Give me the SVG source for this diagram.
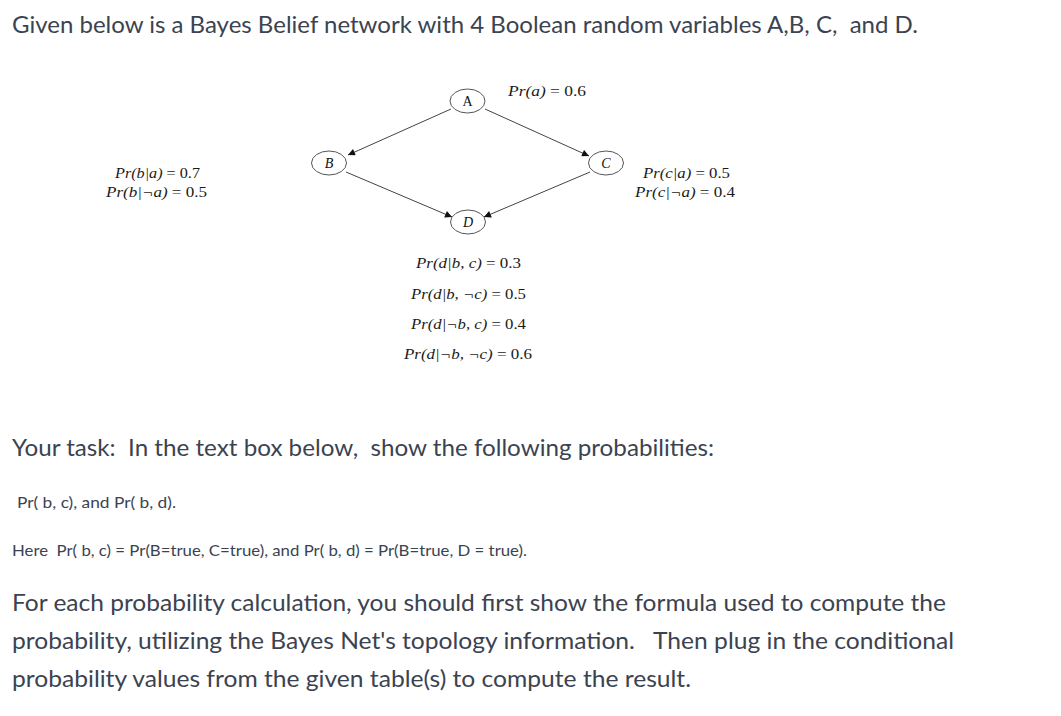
<svg xmlns="http://www.w3.org/2000/svg" width="1061" height="716" viewBox="0 0 1061 716">
<style>
text{white-space:pre}
.body{font-family:Lato,"Open Sans","Noto Sans",sans-serif;fill:#3b4351}
.big{font-size:23px}
.small{font-size:16px}
.m{font-family:"Liberation Serif","Times New Roman",serif;font-style:italic;font-size:14px;fill:#1a1a1a}
.n{font-style:normal;font-family:"Liberation Serif","Times New Roman",serif}
.node ellipse{fill:#fff;stroke:#555;stroke-width:1}
.lbl{font-family:"Liberation Serif","Times New Roman",serif;font-size:14px;fill:#111;text-anchor:middle}
.edge{stroke:#444;stroke-width:1;fill:none;marker-end:url(#ah)}
</style>
<defs>
<marker id="ah" viewBox="0 0 10 10" refX="10" refY="5" markerWidth="10" markerHeight="7" markerUnits="userSpaceOnUse" orient="auto">
<path d="M0,0 L10,5 L0,10 z" fill="#111"/>
</marker>
</defs>
<rect width="1061" height="716" fill="#fff"/>
<text class="body big" x="12" y="33" textLength="906" lengthAdjust="spacingAndGlyphs">Given below is a Bayes Belief network with 4 Boolean random variables A,B, C,  and D.</text>

<g id="connectors">
<line class="edge" x1="451" y1="109" x2="348" y2="155"/>
<line class="edge" x1="485" y1="109" x2="589" y2="156"/>
<line class="edge" x1="346" y1="172" x2="452" y2="217"/>
<line class="edge" x1="590" y1="172" x2="484" y2="217"/>
</g>
<g id="node-A" class="node"><ellipse cx="467.5" cy="101" rx="17.5" ry="12"/><text class="lbl" x="467.5" y="106">A</text></g>
<g id="node-B" class="node"><ellipse cx="329" cy="163" rx="17.5" ry="12"/><text class="lbl" x="329" y="168" font-style="italic">B</text></g>
<g id="node-C" class="node"><ellipse cx="606" cy="163" rx="17.5" ry="12"/><text class="lbl" x="606" y="168" font-style="italic">C</text></g>
<g id="node-D" class="node"><ellipse cx="468" cy="222" rx="17.5" ry="12"/><text class="lbl" x="468" y="227" font-style="italic">D</text></g>

<g id="cpt-A"><text class="m" x="508" y="96" textLength="78" lengthAdjust="spacingAndGlyphs">Pr(a)<tspan class="n"> = 0.6</tspan></text></g>
<g id="cpt-B">
<text class="m" x="115" y="178" textLength="85" lengthAdjust="spacingAndGlyphs">Pr(b|a)<tspan class="n"> = 0.7</tspan></text>
<text class="m" x="106" y="197" textLength="101" lengthAdjust="spacingAndGlyphs">Pr(b|¬a)<tspan class="n"> = 0.5</tspan></text>
</g>
<g id="cpt-C">
<text class="m" x="643" y="178" textLength="87" lengthAdjust="spacingAndGlyphs">Pr(c|a)<tspan class="n"> = 0.5</tspan></text>
<text class="m" x="635" y="197" textLength="100" lengthAdjust="spacingAndGlyphs">Pr(c|¬a)<tspan class="n"> = 0.4</tspan></text>
</g>
<g id="cpt-D">
<text class="m" x="416" y="268" textLength="105" lengthAdjust="spacingAndGlyphs">Pr(d|b, c)<tspan class="n"> = 0.3</tspan></text>
<text class="m" x="411" y="299" textLength="115" lengthAdjust="spacingAndGlyphs">Pr(d|b, ¬c)<tspan class="n"> = 0.5</tspan></text>
<text class="m" x="411" y="329" textLength="115" lengthAdjust="spacingAndGlyphs">Pr(d|¬b, c)<tspan class="n"> = 0.4</tspan></text>
<text class="m" x="404" y="359" textLength="128" lengthAdjust="spacingAndGlyphs">Pr(d|¬b, ¬c)<tspan class="n"> = 0.6</tspan></text>
</g>

<text class="body big" x="12" y="456" textLength="702" lengthAdjust="spacingAndGlyphs">Your task:  In the text box below,  show the following probabilities:</text>
<text class="body small" x="17" y="508" textLength="159" lengthAdjust="spacingAndGlyphs">Pr( b, c), and Pr( b, d).</text>
<text class="body small" x="12" y="556" textLength="515" lengthAdjust="spacingAndGlyphs">Here  Pr( b, c) = Pr(B=true, C=true), and Pr( b, d) = Pr(B=true, D = true).</text>
<text class="body big" x="12" y="611" textLength="934" lengthAdjust="spacingAndGlyphs">For each probability calculation, you should first show the formula used to compute the</text>
<text class="body big" x="12" y="649" textLength="942" lengthAdjust="spacingAndGlyphs">probability, utilizing the Bayes Net's topology information.   Then plug in the conditional</text>
<text class="body big" x="12" y="687" textLength="679" lengthAdjust="spacingAndGlyphs">probability values from the given table(s) to compute the result.</text>
</svg>
